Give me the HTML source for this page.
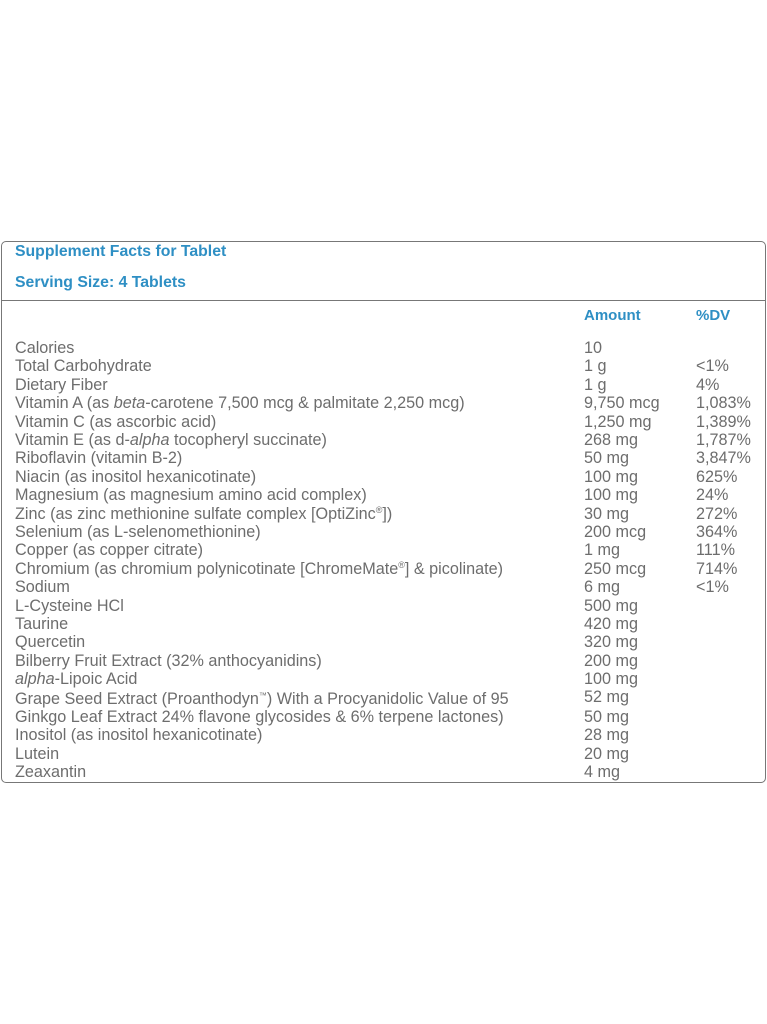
<!DOCTYPE html>
<html><head><meta charset="utf-8"><style>
body{margin:0;width:767px;height:1024px;background:#fff;font-family:"Liberation Sans",sans-serif;position:relative;overflow:hidden}
.box{position:absolute;left:1px;top:241px;width:763px;height:540px;border:1px solid #777;border-radius:5px}
.div{position:absolute;left:1px;top:300px;width:765px;height:1px;background:#777}
.t{position:absolute;left:15px;color:#2e8fc4;font-weight:bold;font-size:15.8px;white-space:nowrap}
.h{position:absolute;color:#2e8fc4;font-weight:bold;font-size:15px}
.r{position:absolute;left:0;width:767px;height:18px;color:#6d6d6d;font-size:16.2px;line-height:18px;white-space:nowrap}
.r span{position:absolute}
.a{left:15px}.b{left:584px}.c{left:696px}
sup{font-size:9px;line-height:0;vertical-align:6px}
</style></head><body>
<div class="box"></div><div class="div"></div>
<div class="t" style="top:243px">Supplement Facts for Tablet</div>
<div class="t" style="top:274px">Serving Size: 4 Tablets</div>
<div class="h" style="left:584px;top:307px">Amount</div>
<div class="h" style="left:696px;top:307px">%DV</div>
<div class="r" style="top:339px"><span class="a">Calories</span><span class="b">10</span></div>
<div class="r" style="top:357.4px"><span class="a">Total Carbohydrate</span><span class="b">1 g</span><span class="c">&lt;1%</span></div>
<div class="r" style="top:375.8px"><span class="a">Dietary Fiber</span><span class="b">1 g</span><span class="c">4%</span></div>
<div class="r" style="top:394.2px"><span class="a">Vitamin A (as <i>beta</i>-carotene 7,500 mcg &amp; palmitate 2,250 mcg)</span><span class="b">9,750 mcg</span><span class="c">1,083%</span></div>
<div class="r" style="top:412.6px"><span class="a">Vitamin C (as ascorbic acid)</span><span class="b">1,250 mg</span><span class="c">1,389%</span></div>
<div class="r" style="top:431px"><span class="a">Vitamin E (as d-<i>alpha</i> tocopheryl succinate)</span><span class="b">268 mg</span><span class="c">1,787%</span></div>
<div class="r" style="top:449.4px"><span class="a">Riboflavin (vitamin B-2)</span><span class="b">50 mg</span><span class="c">3,847%</span></div>
<div class="r" style="top:467.8px"><span class="a">Niacin (as inositol hexanicotinate)</span><span class="b">100 mg</span><span class="c">625%</span></div>
<div class="r" style="top:486.2px"><span class="a">Magnesium (as magnesium amino acid complex)</span><span class="b">100 mg</span><span class="c">24%</span></div>
<div class="r" style="top:504.6px"><span class="a">Zinc (as zinc methionine sulfate complex [OptiZinc<sup>®</sup>])</span><span class="b">30 mg</span><span class="c">272%</span></div>
<div class="r" style="top:523px"><span class="a">Selenium (as L-selenomethionine)</span><span class="b">200 mcg</span><span class="c">364%</span></div>
<div class="r" style="top:541.4px"><span class="a">Copper (as copper citrate)</span><span class="b">1 mg</span><span class="c">111%</span></div>
<div class="r" style="top:559.8px"><span class="a">Chromium (as chromium polynicotinate [ChromeMate<sup>®</sup>] &amp; picolinate)</span><span class="b">250 mcg</span><span class="c">714%</span></div>
<div class="r" style="top:578.2px"><span class="a">Sodium</span><span class="b">6 mg</span><span class="c">&lt;1%</span></div>
<div class="r" style="top:596.6px"><span class="a">L-Cysteine HCl</span><span class="b">500 mg</span></div>
<div class="r" style="top:615px"><span class="a">Taurine</span><span class="b">420 mg</span></div>
<div class="r" style="top:633.4px"><span class="a">Quercetin</span><span class="b">320 mg</span></div>
<div class="r" style="top:651.8px"><span class="a">Bilberry Fruit Extract (32% anthocyanidins)</span><span class="b">200 mg</span></div>
<div class="r" style="top:670.2px"><span class="a"><i>alpha</i>-Lipoic Acid</span><span class="b">100 mg</span></div>
<div class="r" style="top:689.6px"><span class="a">Grape Seed Extract (Proanthodyn<sup style="font-size:8px">™</sup>) With a Procyanidolic Value of 95</span><span class="b" style="top:-2px">52 mg</span></div>
<div class="r" style="top:708px"><span class="a">Ginkgo Leaf Extract 24% flavone glycosides &amp; 6% terpene lactones)</span><span class="b">50 mg</span></div>
<div class="r" style="top:726.4px"><span class="a">Inositol (as inositol hexanicotinate)</span><span class="b">28 mg</span></div>
<div class="r" style="top:744.8px"><span class="a">Lutein</span><span class="b">20 mg</span></div>
<div class="r" style="top:763.2px"><span class="a">Zeaxantin</span><span class="b">4 mg</span></div>
</body></html>
